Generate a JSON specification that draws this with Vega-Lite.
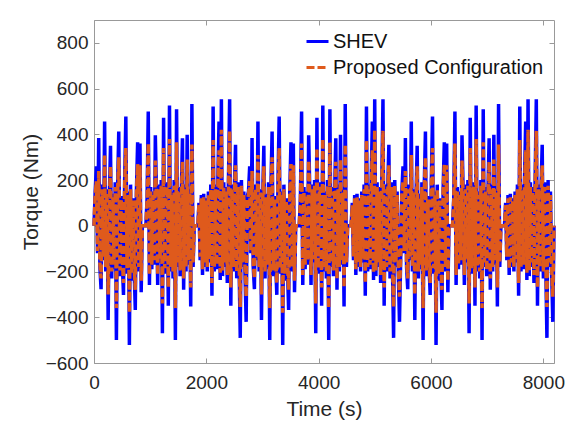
{
"$schema": "https://vega.github.io/schema/vega-lite/v6.json",
"width": 460, "height": 343,
"autosize": {"type": "none"},
"padding": {"left": 94, "top": 20, "right": 21, "bottom": 65},
"background": "white",
"config": {"view": {"stroke": "#999999", "strokeWidth": 1}, "font": "Liberation Sans"},
"resolve": {"axis": {"x": "independent", "y": "independent"}},
"layer": [
{
"data": {"values": [
{"t":0,"s":0,"p":0},{"t":21,"s":150,"p":135},{"t":42,"s":260,"p":195},{"t":63,"s":-120,"p":-110},{"t":84,"s":384,"p":240},{"t":105,"s":-180,"p":-165},{"t":126,"s":-277,"p":-230},{"t":147,"s":180,"p":160},{"t":168,"s":-150,"p":-135},{"t":189,"s":456,"p":310},{"t":210,"s":-200,"p":-180},{"t":231,"s":160,"p":145},{"t":252,"s":-412,"p":-300},{"t":273,"s":120,"p":110},{"t":294,"s":350,"p":260},{"t":315,"s":-230,"p":-200},{"t":336,"s":140,"p":125},{"t":357,"s":-190,"p":-170},{"t":378,"s":190,"p":170},{"t":399,"s":-499,"p":-360},{"t":420,"s":170,"p":150},{"t":441,"s":412,"p":300},{"t":462,"s":-220,"p":-195},{"t":483,"s":130,"p":115},{"t":504,"s":-160,"p":-145},{"t":525,"s":-302,"p":-250},{"t":546,"s":200,"p":175},{"t":567,"s":478,"p":340},{"t":588,"s":-210,"p":-185},{"t":609,"s":150,"p":135},{"t":630,"s":-521,"p":-380},{"t":651,"s":180,"p":160},{"t":672,"s":-240,"p":-210},{"t":693,"s":120,"p":110},{"t":714,"s":-180,"p":-160},{"t":735,"s":-368,"p":-280},{"t":756,"s":160,"p":145},{"t":777,"s":365,"p":270},{"t":798,"s":-200,"p":-180},{"t":819,"s":360,"p":265},{"t":840,"s":-290,"p":-240},{"t":861,"s":0,"p":0},{"t":882,"s":0,"p":0},{"t":903,"s":0,"p":0},{"t":924,"s":0,"p":0},{"t":945,"s":120,"p":110},{"t":966,"s":500,"p":360},{"t":987,"s":-259,"p":-215},{"t":1008,"s":170,"p":150},{"t":1029,"s":-190,"p":-170},{"t":1050,"s":150,"p":135},{"t":1071,"s":-170,"p":-150},{"t":1092,"s":396,"p":285},{"t":1113,"s":140,"p":125},{"t":1134,"s":-259,"p":-215},{"t":1155,"s":180,"p":160},{"t":1176,"s":-160,"p":-145},{"t":1197,"s":200,"p":175},{"t":1218,"s":-470,"p":-340},{"t":1239,"s":473,"p":340},{"t":1260,"s":-210,"p":-185},{"t":1281,"s":160,"p":145},{"t":1302,"s":190,"p":170},{"t":1323,"s":-350,"p":-270},{"t":1344,"s":526,"p":380},{"t":1365,"s":-200,"p":-180},{"t":1386,"s":150,"p":135},{"t":1407,"s":-230,"p":-200},{"t":1428,"s":200,"p":175},{"t":1449,"s":-499,"p":-360},{"t":1470,"s":510,"p":365},{"t":1491,"s":-180,"p":-160},{"t":1512,"s":170,"p":150},{"t":1533,"s":-220,"p":-195},{"t":1554,"s":140,"p":125},{"t":1575,"s":383,"p":280},{"t":1596,"s":-280,"p":-230},{"t":1617,"s":180,"p":160},{"t":1638,"s":-200,"p":-180},{"t":1659,"s":398,"p":290},{"t":1680,"s":-170,"p":-150},{"t":1701,"s":160,"p":145},{"t":1722,"s":-353,"p":-270},{"t":1743,"s":533,"p":355},{"t":1764,"s":-180,"p":-160},{"t":1785,"s":0,"p":0},{"t":1806,"s":0,"p":0},{"t":1827,"s":0,"p":0},{"t":1848,"s":0,"p":0},{"t":1869,"s":100,"p":90},{"t":1890,"s":-150,"p":-135},{"t":1911,"s":135,"p":120},{"t":1932,"s":-215,"p":-190},{"t":1953,"s":140,"p":125},{"t":1974,"s":-180,"p":-160},{"t":1995,"s":120,"p":110},{"t":2016,"s":-200,"p":-180},{"t":2037,"s":150,"p":135},{"t":2058,"s":-160,"p":-145},{"t":2079,"s":180,"p":160},{"t":2100,"s":-306,"p":-250},{"t":2121,"s":522,"p":375},{"t":2142,"s":-200,"p":-180},{"t":2163,"s":180,"p":160},{"t":2184,"s":-190,"p":-170},{"t":2205,"s":200,"p":175},{"t":2226,"s":456,"p":330},{"t":2247,"s":-237,"p":-205},{"t":2268,"s":553,"p":420},{"t":2289,"s":-220,"p":-195},{"t":2310,"s":190,"p":170},{"t":2331,"s":-180,"p":-160},{"t":2352,"s":170,"p":150},{"t":2373,"s":-250,"p":-215},{"t":2394,"s":200,"p":175},{"t":2415,"s":553,"p":415},{"t":2436,"s":-350,"p":-270},{"t":2457,"s":180,"p":160},{"t":2478,"s":-200,"p":-180},{"t":2499,"s":160,"p":145},{"t":2520,"s":354,"p":265},{"t":2541,"s":-230,"p":-200},{"t":2562,"s":190,"p":170},{"t":2583,"s":-170,"p":-150},{"t":2604,"s":-490,"p":-355},{"t":2625,"s":200,"p":175},{"t":2646,"s":-180,"p":-160},{"t":2667,"s":150,"p":135},{"t":2688,"s":-200,"p":-180},{"t":2709,"s":-420,"p":-310},
{"t":2730,"s":130,"p":115},{"t":2751,"s":150,"p":135},{"t":2772,"s":260,"p":195},{"t":2793,"s":-120,"p":-110},{"t":2814,"s":384,"p":240},{"t":2835,"s":-180,"p":-165},{"t":2856,"s":-277,"p":-230},{"t":2877,"s":180,"p":160},{"t":2898,"s":-150,"p":-135},{"t":2919,"s":456,"p":310},{"t":2940,"s":-200,"p":-180},{"t":2961,"s":160,"p":145},{"t":2982,"s":-412,"p":-300},{"t":3003,"s":120,"p":110},{"t":3024,"s":350,"p":260},{"t":3045,"s":-230,"p":-200},{"t":3066,"s":140,"p":125},{"t":3087,"s":-190,"p":-170},{"t":3108,"s":190,"p":170},{"t":3129,"s":-499,"p":-360},{"t":3150,"s":170,"p":150},{"t":3171,"s":412,"p":300},{"t":3192,"s":-220,"p":-195},{"t":3213,"s":130,"p":115},{"t":3234,"s":-160,"p":-145},{"t":3255,"s":-302,"p":-250},{"t":3276,"s":200,"p":175},{"t":3297,"s":478,"p":340},{"t":3318,"s":-210,"p":-185},{"t":3339,"s":150,"p":135},{"t":3360,"s":-521,"p":-380},{"t":3381,"s":180,"p":160},{"t":3402,"s":-240,"p":-210},{"t":3423,"s":120,"p":110},{"t":3444,"s":-180,"p":-160},{"t":3465,"s":-368,"p":-280},{"t":3486,"s":160,"p":145},{"t":3507,"s":365,"p":270},{"t":3528,"s":-200,"p":-180},{"t":3549,"s":360,"p":265},{"t":3570,"s":-290,"p":-240},{"t":3591,"s":0,"p":0},{"t":3612,"s":0,"p":0},{"t":3633,"s":0,"p":0},{"t":3654,"s":0,"p":0},{"t":3675,"s":120,"p":110},{"t":3696,"s":500,"p":360},{"t":3717,"s":-259,"p":-215},{"t":3738,"s":170,"p":150},{"t":3759,"s":-190,"p":-170},{"t":3780,"s":150,"p":135},{"t":3801,"s":-170,"p":-150},{"t":3822,"s":396,"p":285},{"t":3843,"s":140,"p":125},{"t":3864,"s":-259,"p":-215},{"t":3885,"s":180,"p":160},{"t":3906,"s":-160,"p":-145},{"t":3927,"s":200,"p":175},{"t":3948,"s":-470,"p":-340},{"t":3969,"s":473,"p":340},{"t":3990,"s":-210,"p":-185},{"t":4011,"s":160,"p":145},{"t":4032,"s":190,"p":170},{"t":4053,"s":-350,"p":-270},{"t":4074,"s":526,"p":380},{"t":4095,"s":-200,"p":-180},{"t":4116,"s":150,"p":135},{"t":4137,"s":-230,"p":-200},{"t":4158,"s":200,"p":175},{"t":4179,"s":-499,"p":-360},{"t":4200,"s":510,"p":365},{"t":4221,"s":-180,"p":-160},{"t":4242,"s":170,"p":150},{"t":4263,"s":-220,"p":-195},{"t":4284,"s":140,"p":125},{"t":4305,"s":383,"p":280},{"t":4326,"s":-280,"p":-230},{"t":4347,"s":180,"p":160},{"t":4368,"s":-200,"p":-180},{"t":4389,"s":398,"p":290},{"t":4410,"s":-170,"p":-150},{"t":4431,"s":160,"p":145},{"t":4452,"s":-353,"p":-270},{"t":4473,"s":533,"p":355},{"t":4494,"s":-180,"p":-160},{"t":4515,"s":0,"p":0},{"t":4536,"s":0,"p":0},{"t":4557,"s":0,"p":0},{"t":4578,"s":0,"p":0},{"t":4599,"s":100,"p":90},{"t":4620,"s":-150,"p":-135},{"t":4641,"s":135,"p":120},{"t":4662,"s":-215,"p":-190},{"t":4683,"s":140,"p":125},{"t":4704,"s":-180,"p":-160},{"t":4725,"s":120,"p":110},{"t":4746,"s":-200,"p":-180},{"t":4767,"s":150,"p":135},{"t":4788,"s":-160,"p":-145},{"t":4809,"s":180,"p":160},{"t":4830,"s":-306,"p":-250},{"t":4851,"s":522,"p":375},{"t":4872,"s":-200,"p":-180},{"t":4893,"s":180,"p":160},{"t":4914,"s":-190,"p":-170},{"t":4935,"s":200,"p":175},{"t":4956,"s":456,"p":330},{"t":4977,"s":-237,"p":-205},{"t":4998,"s":553,"p":420},{"t":5019,"s":-220,"p":-195},{"t":5040,"s":190,"p":170},{"t":5061,"s":-180,"p":-160},{"t":5082,"s":170,"p":150},{"t":5103,"s":-250,"p":-215},{"t":5124,"s":200,"p":175},{"t":5145,"s":553,"p":415},{"t":5166,"s":-350,"p":-270},{"t":5187,"s":180,"p":160},{"t":5208,"s":-200,"p":-180},{"t":5229,"s":160,"p":145},{"t":5250,"s":354,"p":265},{"t":5271,"s":-230,"p":-200},{"t":5292,"s":190,"p":170},{"t":5313,"s":-170,"p":-150},{"t":5334,"s":-490,"p":-355},{"t":5355,"s":200,"p":175},{"t":5376,"s":-180,"p":-160},{"t":5397,"s":150,"p":135},{"t":5418,"s":-200,"p":-180},{"t":5439,"s":-420,"p":-310},
{"t":5460,"s":-150,"p":-135},{"t":5481,"s":150,"p":135},{"t":5502,"s":260,"p":195},{"t":5523,"s":-120,"p":-110},{"t":5544,"s":384,"p":240},{"t":5565,"s":-180,"p":-165},{"t":5586,"s":-277,"p":-230},{"t":5607,"s":180,"p":160},{"t":5628,"s":-150,"p":-135},{"t":5649,"s":456,"p":310},{"t":5670,"s":-200,"p":-180},{"t":5691,"s":160,"p":145},{"t":5712,"s":-412,"p":-300},{"t":5733,"s":120,"p":110},{"t":5754,"s":350,"p":260},{"t":5775,"s":-230,"p":-200},{"t":5796,"s":140,"p":125},{"t":5817,"s":-190,"p":-170},{"t":5838,"s":190,"p":170},{"t":5859,"s":-499,"p":-360},{"t":5880,"s":170,"p":150},{"t":5901,"s":412,"p":300},{"t":5922,"s":-220,"p":-195},{"t":5943,"s":130,"p":115},{"t":5964,"s":-160,"p":-145},{"t":5985,"s":-302,"p":-250},{"t":6006,"s":200,"p":175},{"t":6027,"s":478,"p":340},{"t":6048,"s":-210,"p":-185},{"t":6069,"s":150,"p":135},{"t":6090,"s":-521,"p":-380},{"t":6111,"s":180,"p":160},{"t":6132,"s":-240,"p":-210},{"t":6153,"s":120,"p":110},{"t":6174,"s":-180,"p":-160},{"t":6195,"s":-368,"p":-280},{"t":6216,"s":160,"p":145},{"t":6237,"s":365,"p":270},{"t":6258,"s":-200,"p":-180},{"t":6279,"s":360,"p":265},{"t":6300,"s":-290,"p":-240},{"t":6321,"s":0,"p":0},{"t":6342,"s":0,"p":0},{"t":6363,"s":0,"p":0},{"t":6384,"s":0,"p":0},{"t":6405,"s":120,"p":110},{"t":6426,"s":500,"p":360},{"t":6447,"s":-259,"p":-215},{"t":6468,"s":170,"p":150},{"t":6489,"s":-190,"p":-170},{"t":6510,"s":150,"p":135},{"t":6531,"s":-170,"p":-150},{"t":6552,"s":396,"p":285},{"t":6573,"s":140,"p":125},{"t":6594,"s":-259,"p":-215},{"t":6615,"s":180,"p":160},{"t":6636,"s":-160,"p":-145},{"t":6657,"s":200,"p":175},{"t":6678,"s":-470,"p":-340},{"t":6699,"s":473,"p":340},{"t":6720,"s":-210,"p":-185},{"t":6741,"s":160,"p":145},{"t":6762,"s":190,"p":170},{"t":6783,"s":-350,"p":-270},{"t":6804,"s":526,"p":380},{"t":6825,"s":-200,"p":-180},{"t":6846,"s":150,"p":135},{"t":6867,"s":-230,"p":-200},{"t":6888,"s":200,"p":175},{"t":6909,"s":-499,"p":-360},{"t":6930,"s":510,"p":365},{"t":6951,"s":-180,"p":-160},{"t":6972,"s":170,"p":150},{"t":6993,"s":-220,"p":-195},{"t":7014,"s":140,"p":125},{"t":7035,"s":383,"p":280},{"t":7056,"s":-280,"p":-230},{"t":7077,"s":180,"p":160},{"t":7098,"s":-200,"p":-180},{"t":7119,"s":398,"p":290},{"t":7140,"s":-170,"p":-150},{"t":7161,"s":160,"p":145},{"t":7182,"s":-353,"p":-270},{"t":7203,"s":533,"p":355},{"t":7224,"s":-180,"p":-160},{"t":7245,"s":0,"p":0},{"t":7266,"s":0,"p":0},{"t":7287,"s":0,"p":0},{"t":7308,"s":0,"p":0},{"t":7329,"s":100,"p":90},{"t":7350,"s":-150,"p":-135},{"t":7371,"s":135,"p":120},{"t":7392,"s":-215,"p":-190},{"t":7413,"s":140,"p":125},{"t":7434,"s":-180,"p":-160},{"t":7455,"s":120,"p":110},{"t":7476,"s":-200,"p":-180},{"t":7497,"s":150,"p":135},{"t":7518,"s":-160,"p":-145},{"t":7539,"s":180,"p":160},{"t":7560,"s":-306,"p":-250},{"t":7581,"s":522,"p":375},{"t":7602,"s":-200,"p":-180},{"t":7623,"s":180,"p":160},{"t":7644,"s":-190,"p":-170},{"t":7665,"s":200,"p":175},{"t":7686,"s":456,"p":330},{"t":7707,"s":-237,"p":-205},{"t":7728,"s":553,"p":420},{"t":7749,"s":-220,"p":-195},{"t":7770,"s":190,"p":170},{"t":7791,"s":-180,"p":-160},{"t":7812,"s":170,"p":150},{"t":7833,"s":-250,"p":-215},{"t":7854,"s":200,"p":175},{"t":7875,"s":553,"p":415},{"t":7896,"s":-350,"p":-270},{"t":7917,"s":180,"p":160},{"t":7938,"s":-200,"p":-180},{"t":7959,"s":160,"p":145},{"t":7980,"s":354,"p":265},{"t":8001,"s":-230,"p":-200},{"t":8022,"s":190,"p":170},{"t":8043,"s":-170,"p":-150},{"t":8064,"s":-490,"p":-355},{"t":8085,"s":200,"p":175},{"t":8106,"s":-180,"p":-160},{"t":8127,"s":150,"p":135},{"t":8148,"s":-200,"p":-180},{"t":8169,"s":-420,"p":-310},{"t":8190,"s":0,"p":0}
]},
"transform": [{"fold": ["s", "p"], "as": ["k", "v"]}],
"mark": {"type": "line", "strokeWidth": 3.5},
"encoding": {
"x": {"field": "t", "type": "quantitative",
"scale": {"domain": [0, 8190], "nice": false, "zero": false},
"axis": {"orient": "bottom", "values": [0, 2000, 4000, 6000, 8000], "grid": false, "domain": false, "tickSize": -5, "tickColor": "#999999", "labelFlush": false, "labelFontSize": 19, "labelColor": "#262626", "labelPadding": 15, "format": "d", "title": "Time (s)", "titleFontSize": 21, "titleFontWeight": "normal", "titleColor": "#262626", "titlePadding": 6}},
"y": {"field": "v", "type": "quantitative",
"scale": {"domain": [-600, 900], "nice": false},
"axis": {"orient": "left", "values": [-600, -400, -200, 0, 200, 400, 600, 800], "grid": false, "domain": false, "tickSize": -5, "tickColor": "#999999", "labelFontSize": 19, "labelColor": "#262626", "labelPadding": 11, "format": "d", "title": "Torque (Nm)", "titleFontSize": 21, "titleFontWeight": "normal", "titleColor": "#262626", "titlePadding": 4}},
"color": {"field": "k", "type": "nominal",
"scale": {"domain": ["s", "p"], "range": ["#0000FF", "#DF5A1C"]},
"legend": {"orient": "none", "legendX": 211, "legendY": 9, "title": null, "padding": 0, "labelExpr": "datum.value == 's' ? 'SHEV' : 'Proposed Configuration'", "labelFontSize": 20, "labelColor": "#111111", "labelLimit": 400, "labelOffset": 3, "symbolType": "stroke", "symbolSize": 484, "symbolStrokeWidth": 3, "rowPadding": 3}},
"strokeDash": {"field": "k", "type": "nominal",
"scale": {"domain": ["s", "p"], "range": [[1, 0], [8, 3]]},
"legend": {"orient": "none", "legendX": 211, "legendY": 9, "title": null, "padding": 0, "labelExpr": "datum.value == 's' ? 'SHEV' : 'Proposed Configuration'", "labelFontSize": 20, "labelColor": "#111111", "labelLimit": 400, "labelOffset": 3, "symbolType": "stroke", "symbolSize": 484, "symbolStrokeWidth": 3, "rowPadding": 3}}
}
},
{
"data": {"values": [{"t": 0, "v": 0}]},
"mark": {"type": "point", "opacity": 0},
"encoding": {
"x": {"field": "t", "type": "quantitative", "axis": {"orient": "top", "values": [0, 2000, 4000, 6000, 8000], "grid": false, "domain": false, "labels": false, "title": null, "tickSize": -5, "tickColor": "#999999"}},
"y": {"field": "v", "type": "quantitative", "axis": {"orient": "right", "values": [-600, -400, -200, 0, 200, 400, 600, 800], "grid": false, "domain": false, "labels": false, "title": null, "tickSize": -5, "tickColor": "#999999"}}
}
}
]
}
